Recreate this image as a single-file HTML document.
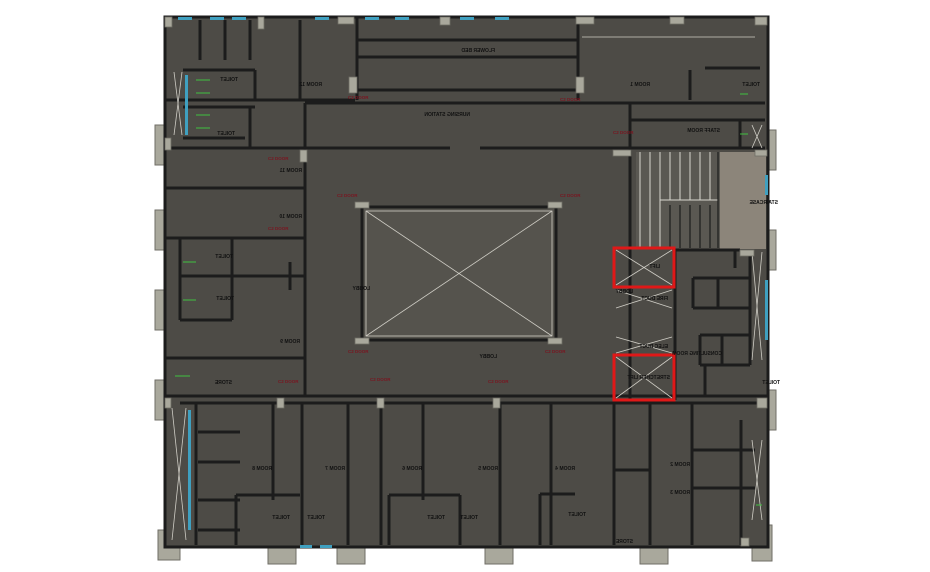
<!DOCTYPE html>
<html><head><meta charset="utf-8"><style>
html,body{margin:0;padding:0;background:#fff;}
svg{display:block}
text{font-family:"Liberation Sans",sans-serif;font-weight:bold;}
</style></head><body>
<svg width="930" height="572" viewBox="0 0 930 572" xmlns="http://www.w3.org/2000/svg">
<!-- outer columns -->
<g fill="#a9a89c" stroke="#6f6e66" stroke-width="1">
<rect x="155" y="125" width="12" height="40"/><rect x="155" y="210" width="12" height="40"/><rect x="155" y="290" width="12" height="40"/><rect x="155" y="380" width="12" height="40"/><rect x="158" y="530" width="22" height="30"/>
<rect x="268" y="540" width="28" height="24"/><rect x="337" y="540" width="28" height="24"/><rect x="485" y="540" width="28" height="24"/><rect x="640" y="540" width="28" height="24"/><rect x="752" y="525" width="20" height="36"/>
<rect x="766" y="130" width="10" height="40"/><rect x="766" y="230" width="10" height="40"/><rect x="766" y="390" width="10" height="40"/>
</g>
<!-- floor -->
<rect x="165" y="17" width="603" height="530" fill="#4d4b46" stroke="#1c1c1c" stroke-width="3"/>
<!-- staircase light area -->
<rect x="720" y="152" width="46" height="97" fill="#8c857a"/>
<rect x="636" y="152" width="84" height="97" fill="#5a5852"/>
<g stroke="#d8d6ce" stroke-width="1">
<line x1="640" y1="152" x2="640" y2="248"/><line x1="650" y1="152" x2="650" y2="248"/><line x1="660" y1="152" x2="660" y2="248"/><line x1="670" y1="152" x2="670" y2="200"/><line x1="680" y1="152" x2="680" y2="200"/><line x1="690" y1="152" x2="690" y2="200"/><line x1="700" y1="152" x2="700" y2="200"/><line x1="710" y1="152" x2="710" y2="200"/>
<line x1="660" y1="200" x2="718" y2="200"/>
</g>
<g stroke="#1c1c1c" stroke-width="1.2">
<line x1="670" y1="205" x2="670" y2="248"/><line x1="680" y1="205" x2="680" y2="248"/><line x1="690" y1="205" x2="690" y2="248"/><line x1="700" y1="205" x2="700" y2="248"/><line x1="710" y1="205" x2="710" y2="248"/><line x1="718" y1="152" x2="718" y2="248"/>
</g>
<!-- central void -->
<rect x="362" y="207" width="194" height="133" fill="#55534d" stroke="#1c1c1c" stroke-width="3"/>
<g stroke="#cfcdc5" stroke-width="0.8" fill="none">
<rect x="366" y="211" width="186" height="125"/>
<line x1="366" y1="211" x2="552" y2="336"/><line x1="552" y1="211" x2="366" y2="336"/>
</g>
<!-- walls -->
<g stroke="#1c1c1c" stroke-width="3" fill="none">
<!-- top band -->
<line x1="357" y1="17" x2="357" y2="100"/><line x1="578" y1="17" x2="578" y2="100"/>
<line x1="357" y1="90" x2="578" y2="90"/>
<line x1="357" y1="40" x2="578" y2="40"/><line x1="357" y1="57" x2="578" y2="57"/>
<line x1="165" y1="100" x2="355" y2="100"/><line x1="305" y1="103" x2="765" y2="103"/>
<line x1="305" y1="103" x2="305" y2="395"/>
<line x1="165" y1="148" x2="450" y2="148"/><line x1="480" y1="148" x2="630" y2="148"/>
<line x1="630" y1="103" x2="630" y2="400"/>
<line x1="630" y1="148" x2="765" y2="148"/>
<line x1="630" y1="120" x2="765" y2="120"/>
<line x1="690" y1="70" x2="690" y2="100"/>
<line x1="705" y1="68" x2="760" y2="68"/>
<line x1="740" y1="120" x2="740" y2="148"/>
<!-- top left small rooms -->
<line x1="200" y1="20" x2="200" y2="60"/><line x1="225" y1="20" x2="225" y2="60"/><line x1="250" y1="20" x2="250" y2="60"/>
<line x1="183" y1="70" x2="255" y2="70"/><line x1="255" y1="70" x2="255" y2="100"/>
<line x1="183" y1="107" x2="255" y2="107"/><line x1="183" y1="138" x2="245" y2="138"/>
<line x1="250" y1="107" x2="250" y2="148"/>
<line x1="300" y1="20" x2="300" y2="100"/>
<!-- left column rooms -->
<line x1="165" y1="188" x2="305" y2="188"/>
<line x1="165" y1="238" x2="305" y2="238"/>
<line x1="180" y1="276" x2="305" y2="276"/>
<line x1="180" y1="238" x2="180" y2="320"/><line x1="232" y1="238" x2="232" y2="320"/>
<line x1="180" y1="320" x2="232" y2="320"/>
<line x1="165" y1="358" x2="305" y2="358"/>
<line x1="165" y1="396" x2="768" y2="396"/>
<line x1="180" y1="403" x2="768" y2="403"/>
<line x1="290" y1="262" x2="290" y2="290"/>
<!-- bottom rooms -->
<line x1="196" y1="403" x2="196" y2="545"/>
<line x1="273" y1="403" x2="273" y2="500"/>
<line x1="302" y1="403" x2="302" y2="545"/>
<line x1="348" y1="403" x2="348" y2="545"/>
<line x1="381" y1="403" x2="381" y2="545"/>
<line x1="423" y1="403" x2="423" y2="500"/>
<line x1="500" y1="403" x2="500" y2="545"/>
<line x1="551" y1="403" x2="551" y2="545"/>
<line x1="614" y1="403" x2="614" y2="545"/>
<line x1="650" y1="403" x2="650" y2="545"/>
<line x1="692" y1="403" x2="692" y2="545"/>
<line x1="198" y1="432" x2="240" y2="432"/><line x1="198" y1="462" x2="240" y2="462"/><line x1="198" y1="500" x2="240" y2="500"/><line x1="198" y1="530" x2="240" y2="530"/>
<line x1="236" y1="495" x2="300" y2="495"/><line x1="236" y1="495" x2="236" y2="545"/>
<line x1="389" y1="495" x2="460" y2="495"/><line x1="389" y1="495" x2="389" y2="545"/><line x1="460" y1="495" x2="460" y2="545"/>
<line x1="540" y1="494" x2="575" y2="494"/><line x1="540" y1="494" x2="540" y2="545"/>
<line x1="614" y1="470" x2="650" y2="470"/>
<line x1="692" y1="450" x2="755" y2="450"/><line x1="692" y1="488" x2="755" y2="488"/>
<line x1="741" y1="420" x2="741" y2="545"/>
<!-- right core -->
<line x1="675" y1="250" x2="675" y2="400"/>
<line x1="675" y1="250" x2="740" y2="250"/>
<line x1="735" y1="250" x2="735" y2="268"/>
<line x1="693" y1="278" x2="750" y2="278"/><line x1="693" y1="278" x2="693" y2="308"/>
<line x1="693" y1="308" x2="750" y2="308"/><line x1="718" y1="278" x2="718" y2="308"/>
<line x1="700" y1="335" x2="750" y2="335"/><line x1="700" y1="335" x2="700" y2="365"/>
<line x1="700" y1="365" x2="750" y2="365"/><line x1="722" y1="335" x2="722" y2="365"/>
<line x1="705" y1="365" x2="705" y2="396"/>
<line x1="750" y1="250" x2="750" y2="365"/>
</g>
<!-- red lifts -->
<g fill="none" stroke="#e01818" stroke-width="3">
<rect x="614" y="248" width="60" height="39"/>
<rect x="614" y="355" width="60" height="45"/>
</g>
<g stroke="#cfcdc5" stroke-width="0.8" fill="none">
<line x1="616" y1="250" x2="672" y2="285"/><line x1="672" y1="250" x2="616" y2="285"/>
<line x1="616" y1="290" x2="672" y2="308"/><line x1="672" y1="290" x2="616" y2="308"/>
<line x1="616" y1="337" x2="672" y2="353"/><line x1="672" y1="337" x2="616" y2="353"/>
<line x1="616" y1="357" x2="672" y2="398"/><line x1="672" y1="357" x2="616" y2="398"/>
<line x1="172" y1="408" x2="186" y2="540"/><line x1="186" y1="408" x2="172" y2="540"/>
<line x1="174" y1="72" x2="182" y2="135"/><line x1="182" y1="72" x2="174" y2="135"/>
<line x1="752" y1="125" x2="762" y2="148"/><line x1="762" y1="125" x2="752" y2="148"/>
<line x1="752" y1="252" x2="762" y2="360"/><line x1="762" y1="252" x2="752" y2="360"/>
<line x1="752" y1="440" x2="762" y2="520"/><line x1="762" y1="440" x2="752" y2="520"/>
<line x1="582" y1="37" x2="755" y2="37"/>
</g>
<!-- windows -->
<g fill="#3fa0c0">
<rect x="178" y="17" width="14" height="3"/><rect x="210" y="17" width="14" height="3"/><rect x="232" y="17" width="14" height="3"/><rect x="315" y="17" width="14" height="3"/>
<rect x="365" y="17" width="14" height="3"/><rect x="395" y="17" width="14" height="3"/><rect x="460" y="17" width="14" height="3"/><rect x="495" y="17" width="14" height="3"/>
<rect x="185" y="75" width="3" height="60"/><rect x="188" y="410" width="3" height="120"/>
<rect x="765" y="175" width="3" height="20"/><rect x="765" y="280" width="3" height="60"/><rect x="300" y="545" width="12" height="3"/><rect x="320" y="545" width="12" height="3"/>
</g>
<!-- columns inside -->
<g fill="#a9a89c" stroke="#6f6e66" stroke-width="0.8">
<rect x="165" y="17" width="7" height="10"/><rect x="258" y="17" width="6" height="12"/><rect x="338" y="17" width="16" height="7"/><rect x="440" y="17" width="10" height="8"/><rect x="576" y="17" width="18" height="7"/><rect x="670" y="17" width="14" height="7"/><rect x="755" y="17" width="12" height="8"/>
<rect x="349" y="77" width="8" height="16"/><rect x="576" y="77" width="8" height="16"/>
<rect x="165" y="138" width="6" height="12"/><rect x="300" y="150" width="7" height="12"/>
<rect x="613" y="150" width="18" height="6"/><rect x="755" y="150" width="12" height="6"/>
<rect x="355" y="202" width="14" height="6"/><rect x="548" y="202" width="14" height="6"/><rect x="355" y="338" width="14" height="6"/><rect x="548" y="338" width="14" height="6"/>
<rect x="165" y="398" width="6" height="10"/><rect x="277" y="398" width="7" height="10"/><rect x="377" y="398" width="7" height="10"/><rect x="493" y="398" width="7" height="10"/><rect x="757" y="398" width="10" height="10"/>
<rect x="740" y="250" width="14" height="6"/><rect x="741" y="538" width="8" height="8"/>
</g>
<!-- green lines -->
<g stroke="#3fc040" stroke-width="1">
<line x1="196" y1="80" x2="210" y2="80"/><line x1="196" y1="93" x2="210" y2="93"/><line x1="196" y1="115" x2="210" y2="115"/><line x1="196" y1="128" x2="210" y2="128"/>
<line x1="183" y1="262" x2="196" y2="262"/><line x1="183" y1="300" x2="196" y2="300"/><line x1="175" y1="376" x2="190" y2="376"/>
<line x1="740" y1="94" x2="748" y2="94"/><line x1="740" y1="134" x2="748" y2="134"/>
<line x1="756" y1="505" x2="762" y2="505"/>
</g>
<!-- labels (mirrored) -->
<g font-size="5" fill="#111">
<text transform="translate(322,86) scale(-1,1)">ROOM 12</text>
<text transform="translate(495,52) scale(-1,1)">FLOWER BED</text>
<text transform="translate(470,116) scale(-1,1)">NURSING STATION</text>
<text transform="translate(650,86) scale(-1,1)">ROOM 1</text>
<text transform="translate(760,86) scale(-1,1)">TOILET</text>
<text transform="translate(720,132) scale(-1,1)">STAFF ROOM</text>
<text transform="translate(238,81) scale(-1,1)">TOILET</text>
<text transform="translate(235,135) scale(-1,1)">TOILET</text>
<text transform="translate(302,172) scale(-1,1)">ROOM 11</text>
<text transform="translate(302,218) scale(-1,1)">ROOM 10</text>
<text transform="translate(233,258) scale(-1,1)">TOILET</text>
<text transform="translate(234,300) scale(-1,1)">TOILET</text>
<text transform="translate(300,343) scale(-1,1)">ROOM 9</text>
<text transform="translate(232,384) scale(-1,1)">STORE</text>
<text transform="translate(370,290) scale(-1,1)">LOBBY</text>
<text transform="translate(497,358) scale(-1,1)">LOBBY</text>
<text transform="translate(778,204) scale(-1,1)">STAIRCASE</text>
<text transform="translate(660,268) scale(-1,1)">LIFT</text>
<text transform="translate(633,293) scale(-1,1)">LOBBY</text>
<text transform="translate(668,300) scale(-1,1)">FIRE DUCT</text>
<text transform="translate(668,348) scale(-1,1)">ELEC DUCT</text>
<text transform="translate(722,355) scale(-1,1)">CONSULTING ROOM</text>
<text transform="translate(670,379) scale(-1,1)">STRETCHER LIFT</text>
<text transform="translate(780,384) scale(-1,1)">TOILET</text>
<text transform="translate(272,470) scale(-1,1)">ROOM 8</text>
<text transform="translate(345,470) scale(-1,1)">ROOM 7</text>
<text transform="translate(422,470) scale(-1,1)">ROOM 6</text>
<text transform="translate(498,470) scale(-1,1)">ROOM 5</text>
<text transform="translate(575,470) scale(-1,1)">ROOM 4</text>
<text transform="translate(690,466) scale(-1,1)">ROOM 2</text>
<text transform="translate(690,494) scale(-1,1)">ROOM 3</text>
<text transform="translate(290,519) scale(-1,1)">TOILET</text>
<text transform="translate(325,519) scale(-1,1)">TOILET</text>
<text transform="translate(445,519) scale(-1,1)">TOILET</text>
<text transform="translate(478,519) scale(-1,1)">TOILET</text>
<text transform="translate(586,516) scale(-1,1)">TOILET</text>
<text transform="translate(633,543) scale(-1,1)">STORE</text>
</g>
<g font-size="4.5" fill="#7a1520">
<text x="348" y="99">C2 DOOR</text><text x="560" y="101">C2 DOOR</text><text x="613" y="134">C2 DOOR</text>
<text x="268" y="160">C2 DOOR</text><text x="337" y="197">C2 DOOR</text><text x="560" y="197">C2 DOOR</text>
<text x="268" y="230">C2 DOOR</text><text x="348" y="353">C2 DOOR</text><text x="545" y="353">C2 DOOR</text>
<text x="278" y="383">C2 DOOR</text><text x="370" y="381">C2 DOOR</text><text x="488" y="383">C2 DOOR</text>
</g>
</svg>
</body></html>
